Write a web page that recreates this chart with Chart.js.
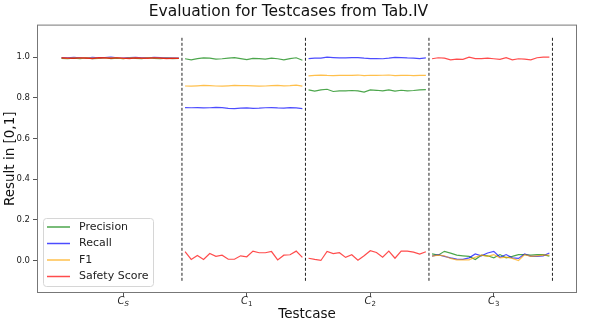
<!DOCTYPE html>
<html>
<head>
<meta charset="utf-8">
<script src="https://cdn.jsdelivr.net/npm/chart.js@4.4.0/dist/chart.umd.min.js"></script>
<style>html,body{margin:0;padding:0;background:#fff}canvas{display:block}</style>
</head>
<body>
<canvas id="chart" width="598" height="331"></canvas>
<script>
// ── data ────────────────────────────────────────────────────────────
const seriesNames  = ['Precision', 'Recall', 'F1', 'Safety Score'];
const seriesColors = ['rgba(0,128,0,0.7)', 'rgba(0,0,255,0.7)', 'rgba(255,165,0,0.7)', 'rgba(255,0,0,0.7)'];

const testcaseTicks = [10, 30, 50, 70];
const testcaseSubs  = ['S', '1', '2', '3'];
const segmentStarts = [0, 20, 40, 60];
const boundaryX     = [19.5, 39.5, 59.5, 79.5];
const boundaryRange = [-0.1, 1.1];
const yTicks        = [0, 0.2, 0.4, 0.6, 0.8, 1.0];

// C_S
const csPrecision = [0.994,0.992,0.995,0.993,0.996,0.992,0.994,0.997,0.993,0.995,0.992,0.996,0.994,0.993,0.997,0.994,0.992,0.995,0.993,0.994];
const csRecall    = [0.998,0.996,0.999,0.997,0.995,0.999,0.996,0.998,1.000,0.997,0.995,0.998,0.999,0.996,0.997,0.999,0.998,0.996,0.997,0.995];
const csF1        = [0.996,0.994,0.997,0.995,0.996,0.995,0.995,0.997,0.996,0.996,0.993,0.997,0.996,0.994,0.997,0.996,0.995,0.995,0.995,0.994];
const csSafety    = [0.996,0.995,0.994,0.997,0.995,0.993,0.998,0.996,0.994,0.997,0.995,0.993,0.996,0.995,0.994,0.997,0.995,0.993,0.994,0.994];
// C_1
const c1Precision = [0.992,0.987,0.993,0.996,0.995,0.990,0.992,0.995,0.998,0.993,0.988,0.994,0.993,0.990,0.995,0.992,0.987,0.993,0.997,0.985];
const c1Recall    = [0.752,0.751,0.752,0.750,0.751,0.753,0.752,0.748,0.747,0.749,0.750,0.748,0.749,0.751,0.752,0.750,0.749,0.752,0.750,0.747];
const c1F1        = [0.858,0.857,0.859,0.861,0.860,0.858,0.857,0.859,0.861,0.860,0.860,0.859,0.857,0.858,0.860,0.861,0.859,0.860,0.862,0.857];
const c1Safety    = [0.044,0.005,0.025,0.005,0.034,0.020,0.026,0.006,0.006,0.023,0.018,0.046,0.038,0.038,0.044,0.003,0.026,0.028,0.046,0.015];
// C_2
const c2Precision = [0.839,0.833,0.839,0.842,0.831,0.834,0.834,0.836,0.834,0.828,0.839,0.837,0.834,0.839,0.833,0.837,0.834,0.836,0.839,0.840];
const c2Recall    = [0.993,0.995,0.995,1.000,0.998,0.996,0.996,0.998,0.998,0.995,0.993,0.993,0.992,0.995,0.999,0.998,0.996,0.995,0.993,0.996];
const c2F1        = [0.908,0.910,0.912,0.910,0.909,0.910,0.911,0.910,0.912,0.909,0.911,0.910,0.911,0.912,0.909,0.910,0.911,0.909,0.910,0.910];
const c2Safety    = [0.011,0.005,0.000,0.044,0.034,0.038,0.015,0.028,0.001,0.023,0.048,0.039,0.016,0.046,0.011,0.046,0.046,0.041,0.031,0.043];
// C_3
const c3Precision = [0.032,0.026,0.045,0.036,0.026,0.023,0.020,0.005,0.026,0.023,0.013,0.029,0.013,0.020,0.029,0.029,0.026,0.029,0.029,0.021];
const c3Recall    = [0.021,0.029,0.020,0.013,0.007,0.005,0.013,0.032,0.023,0.037,0.045,0.016,0.029,0.013,0.010,0.032,0.020,0.020,0.023,0.037];
const c3F1        = [0.021,0.026,0.023,0.010,0.003,0.003,0.003,0.016,0.026,0.020,0.029,0.013,0.016,0.010,0.000,0.029,0.020,0.023,0.026,0.026];
const c3Safety    = [0.992,0.997,0.995,0.987,0.990,0.989,1.000,0.993,0.993,0.995,0.992,0.989,0.997,0.987,0.992,0.990,0.987,0.997,1.000,1.000];

const seriesSegments = [
  [csPrecision, c1Precision, c2Precision, c3Precision],
  [csRecall,    c1Recall,    c2Recall,    c3Recall],
  [csF1,        c1F1,        c2F1,        c3F1],
  [csSafety,    c1Safety,    c2Safety,    c3Safety]
];

// ── build points, a null between testcases breaks the line ──────────
function segmentPoints(segs){
  const pts = [];
  segs.forEach((vals, s) => {
    if(s > 0) pts.push({ x: segmentStarts[s] - 0.5, y: null });
    vals.forEach((v, i) => pts.push({ x: segmentStarts[s] + i, y: v }));
  });
  return pts;
}
const boundaryPts = [];
boundaryX.forEach((bx, i) => {
  if(i > 0) boundaryPts.push({ x: bx - 1, y: null });
  boundaryPts.push({ x: bx, y: boundaryRange[0] }, { x: bx, y: boundaryRange[1] });
});

// later series sit on top (lower order = drawn last)
const datasets = seriesNames.map((name, i) => ({
  label: name, data: segmentPoints(seriesSegments[i]), order: seriesNames.length - i,
  borderColor: seriesColors[i], backgroundColor: seriesColors[i],
  borderWidth: 1.2, pointRadius: 0, spanGaps: false, tension: 0
}));
datasets.push({
  label: '_bounds', data: boundaryPts, order: 0, borderColor: '#222', borderWidth: 1,
  borderDash: [3, 2], pointRadius: 0, spanGaps: false
});

// ── frame, legend box, italic testcase ticks ───────────────────────
const extras = {
  id: 'extras',
  afterDraw(chart){
    const { ctx, chartArea: a, scales: { x } } = chart;
    ctx.save();
    ctx.strokeStyle = '#777'; ctx.lineWidth = 1;
    ctx.strokeRect(a.left + 0.5, a.top + 0.5, a.right - a.left - 1, a.bottom - a.top - 1);

    // testcase labels C_S, C_1 ...
    ctx.fillStyle = '#222'; ctx.textBaseline = 'alphabetic';
    testcaseTicks.forEach((v, i) => {
      const px = x.getPixelForValue(v);
      const subFont = (testcaseSubs[i] === 'S' ? 'italic ' : '') + '7px "DejaVu Sans"';
      ctx.font = 'italic 10px "DejaVu Sans"';
      const wC = ctx.measureText('C').width;
      ctx.font = subFont;
      const wS = ctx.measureText(testcaseSubs[i]).width;
      const x0 = px - (wC + wS) / 2;
      ctx.font = 'italic 10px "DejaVu Sans"';
      ctx.fillText('C', x0, 304);
      ctx.font = subFont;
      ctx.fillText(testcaseSubs[i], x0 + wC, 306);
    });

    // legend
    const lx = 43, ly = 218, lw = 110, lh = 68;
    ctx.beginPath();
    ctx.roundRect(lx + 0.5, ly + 0.5, lw, lh, 3);
    ctx.fillStyle = 'rgba(255,255,255,0.85)'; ctx.fill();
    ctx.strokeStyle = '#d6d6d6'; ctx.stroke();
    ctx.font = '11px "DejaVu Sans"'; ctx.textBaseline = 'middle';
    seriesNames.forEach((name, i) => {
      const y = 227 + i * 16.5;
      ctx.strokeStyle = seriesColors[i]; ctx.lineWidth = 1.5;
      ctx.beginPath(); ctx.moveTo(47, y); ctx.lineTo(70, y); ctx.stroke();
      ctx.fillStyle = '#222'; ctx.fillText(name, 79, y);
    });
    ctx.restore();
  }
};

new Chart(document.getElementById('chart'), {
  type: 'line',
  data: { datasets },
  plugins: [extras],
  options: {
    responsive: false, animation: false, devicePixelRatio: 1,
    layout: { padding: { left: 0, right: 21, top: 0, bottom: 0 } },
    plugins: {
      legend: { display: false }, tooltip: { enabled: false },
      title: { display: true, text: 'Evaluation for Testcases from Tab.IV', color: '#111',
               font: { family: 'DejaVu Sans', size: 15.5, weight: 'normal' }, padding: { top: 3, bottom: 3 } }
    },
    scales: {
      x: {
        type: 'linear', min: -3.975, max: 83.475,
        afterBuildTicks: s => { s.ticks = testcaseTicks.map(v => ({ value: v })); },
        afterFit: s => { s.height = 38; },
        ticks: { callback: () => '', font: { size: 8 } },
        grid: { drawOnChartArea: false, drawTicks: true, tickLength: 4, color: '#555' },
        border: { display: false },
        title: { display: true, text: 'Testcase', color: '#111',
                 font: { family: 'DejaVu Sans', size: 13.5 }, padding: { top: 0, bottom: 8 } }
      },
      y: {
        min: -0.16, max: 1.16,
        afterBuildTicks: s => { s.ticks = yTicks.map(v => ({ value: v })); },
        afterFit: s => { s.width = 37; },
        ticks: { callback: v => v.toFixed(1), color: '#222', padding: 3,
                 font: { family: 'DejaVu Sans', size: 8.5 } },
        grid: { drawOnChartArea: false, drawTicks: true, tickLength: 4, color: '#555' },
        border: { display: false },
        title: { display: true, text: 'Result in [0,1]', color: '#111',
                 font: { family: 'DejaVu Sans', size: 13.5 }, padding: { top: 2, bottom: 0 } }
      }
    }
  }
});
</script>
</body>
</html>
